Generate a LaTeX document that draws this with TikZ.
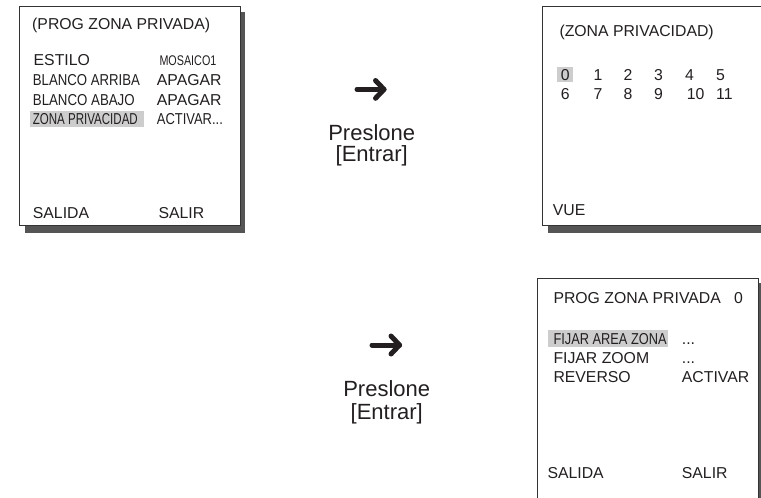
\documentclass[tikz,border=0pt]{standalone}
\usepackage{fontspec}
\usepackage{graphicx}
\setmainfont{Liberation Sans}
\definecolor{txt}{HTML}{231F20}
\definecolor{hl}{HTML}{CDCDCD}
\definecolor{shd}{HTML}{555555}
\definecolor{brd}{HTML}{333333}
\tikzset{
  t/.style={anchor=base west, inner sep=0pt, text=txt, font=\fontsize{15.8}{19}\selectfont},
  ts/.style={anchor=base west, inner sep=0pt, text=txt, font=\fontsize{14}{17}\selectfont},
  tb/.style={anchor=base, inner sep=0pt, text=txt, font=\fontsize{22}{26}\selectfont},
  shadowfill/.style={fill=shd, draw=none},
  boxline/.style={draw=brd, line width=1pt},
  arr/.style={line width=5pt, line cap=round, line join=round, draw=txt}
}
\begin{document}
\begin{tikzpicture}[x=1pt,y=-1pt]
\useasboundingbox (0,0) rectangle (761,498);
% ---- box 1 ----
\fill[shadowfill] (24.5,11.7) rectangle (245,232.5);
\fill[white] (19.5,6.7) rectangle (240,225.5);
\draw[boxline] (19.5,6.7) rectangle (240,225.5);
\fill[hl] (30,110.7) rectangle (144,126.5);
\node[t] (b1title) at (32,29) {(PROG ZONA PRIVADA)};
\node[t] (b1l1) at (33.5,65.5) {ESTILO};
\node[t] (b1l2) at (32.7,85.5) {\scalebox{0.835}[1]{BLANCO ARRIBA}};
\node[t] (b1l3) at (32.7,105) {\scalebox{0.84}[1]{BLANCO ABAJO}};
\node[t] (b1l4) at (32.7,124) {\scalebox{0.73}[1]{ZONA PRIVACIDAD}};
\node[ts] (b1r1) at (159.3,65.5) {\scalebox{0.77}[1]{MOSAICO1}};
\node[t] (b1r2) at (156.7,85.5) {APAGAR};
\node[t] (b1r3) at (156.7,105) {APAGAR};
\node[t] (b1r4) at (156.7,124) {\scalebox{0.82}[1]{ACTIVAR...}};
\node[t] (b1s1) at (32.7,218.3) {SALIDA};
\node[t] (b1s2) at (158.3,218.3) {SALIR};
% ---- arrow 1 ----
\coordinate (a1s) at (357,89.4);
\coordinate (a1e) at (384,89.4);
\draw[arr] (a1s) -- (a1e);
\draw[arr] (375.5,80.5) -- (a1e) -- (375.5,98.3);
\node[tb] (p1a) at (371.7,140) {Preslone};
\node[tb] (p1b) at (371.7,161.7) {[Entrar]};
% ---- box 2 ----
\fill[shadowfill] (547.7,11) rectangle (761,232.5);
\fill[white] (542.7,6) rectangle (761,225.5);
\draw[boxline] (761,6) -- (542.7,6) -- (542.7,225.5) -- (761,225.5);
\node[t] (b2title) at (559.3,36.7) {(ZONA PRIVACIDAD)};
\fill[hl] (557.3,66.7) rectangle (572.7,82.3);
\node[t] (d0) at (560.7,80) {0};
\node[t] (d1) at (593.3,80) {1};
\node[t] (d2) at (623.3,80) {2};
\node[t] (d3) at (654,80) {3};
\node[t] (d4) at (685,80) {4};
\node[t] (d5) at (716,80) {5};
\node[t] (d6) at (560.7,99) {6};
\node[t] (d7) at (593.3,99) {7};
\node[t] (d8) at (623.3,99) {8};
\node[t] (d9) at (654,99) {9};
\node[t] (d10) at (686.7,99) {10};
\node[t] (d11) at (716,99) {11};
\node[t] (vue) at (552.7,215) {VUE};
% ---- arrow 2 ----
\coordinate (a2s) at (372,345);
\coordinate (a2e) at (399.5,345);
\draw[arr] (a2s) -- (a2e);
\draw[arr] (391,336) -- (a2e) -- (391,354);
\node[tb] (p2a) at (386.7,396.7) {Preslone};
\node[tb] (p2b) at (386.7,419) {[Entrar]};
% ---- box 3 ----
\fill[shadowfill] (542,283.3) rectangle (761,498);
\fill[white] (537.3,278.3) rectangle (758.7,498);
\draw[boxline] (537.3,498) -- (537.3,278.3) -- (758.7,278.3) -- (758.7,498);
\node[t] (b3title) at (553.3,303.3) {PROG ZONA PRIVADA};
\node[t] (b3num) at (734,303.3) {0};
\fill[hl] (548.3,330) rectangle (668.3,346.7);
\node[t] (b3l1) at (553.3,344) {\scalebox{0.81}[1]{FIJAR AREA ZONA}};
\node[t] (b3l2) at (553.3,363.3) {FIJAR ZOOM};
\node[t] (b3l3) at (553.3,382.7) {REVERSO};
\node[t] (b3r1) at (681.7,344) {...};
\node[t] (b3r2) at (681.7,363.3) {...};
\node[t] (b3r3) at (681.7,382.7) {ACTIVAR};
\node[t] (b3s1) at (547.3,478.3) {SALIDA};
\node[t] (b3s2) at (681.7,478.3) {SALIR};
\end{tikzpicture}
\end{document}
